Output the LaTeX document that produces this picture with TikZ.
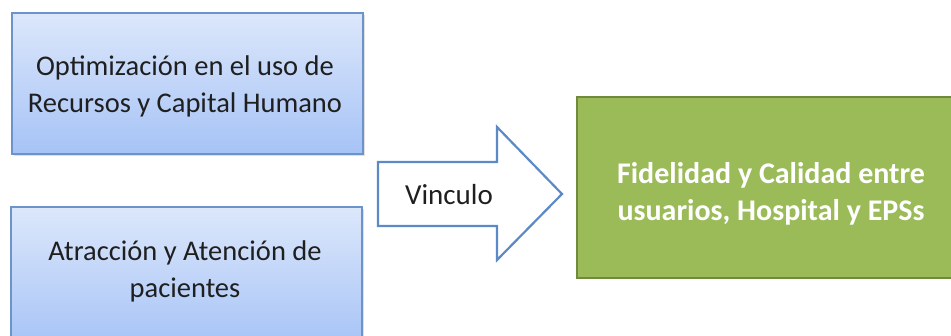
\documentclass[tikz,border=0pt]{standalone}
\usepackage{fontspec}
\setmainfont{Carlito}
\usetikzlibrary{shadows}
\definecolor{boxtop}{HTML}{DCE7FB}
\definecolor{boxbot}{HTML}{A6C3F6}
\definecolor{boxline}{HTML}{6D93CB}
\definecolor{arrowline}{HTML}{5B8AC6}
\definecolor{greenfill}{HTML}{9BBB59}
\definecolor{greenline}{HTML}{71893F}
\definecolor{inktext}{HTML}{1F1F1F}
\tikzset{
  bluebox/.style={draw=boxline, line width=1.2pt, top color=boxtop, bottom color=boxbot,
    minimum width=351pt, minimum height=141pt, inner sep=0pt,
    drop shadow={shadow xshift=1.5pt, shadow yshift=-1.5pt, opacity=0.25}},
  boxtext/.style={font=\fontsize{28.5}{37}\selectfont, text=inktext, align=center},
  greenbox/.style={draw=greenline, line width=2pt, fill=greenfill,
    minimum width=390pt, minimum height=181pt, inner sep=0pt},
  greentext/.style={font=\fontsize{30}{37}\selectfont\bfseries, text=white, align=center},
  bigarrow/.style={draw=arrowline, line width=2.2pt, fill=white, line join=miter}
}
\begin{document}
\begin{tikzpicture}[x=1pt,y=-1pt]
\useasboundingbox (0,0) rectangle (951,335);
\clip (0,0) rectangle (951,335);
\fill[white] (0,0) rectangle (951,335);

% input boxes
\node[bluebox] (opt) at (187.5,83.5) {};
\node[boxtext] (opttxt) at (185,86) {Optimización en el uso de\\Recursos y Capital Humano};
\node[bluebox] (atr) at (186.5,277.5) {};
\node[boxtext] (atrtxt) at (185,271) {Atracción y Atención de\\pacientes};

% link arrow
\draw[bigarrow] (378,162) -- (497,162) -- (497,127) -- (562,194) -- (497,260)
  -- (497,226) -- (378,226) -- cycle;
\node[font=\fontsize{29}{34}\selectfont, text=inktext] (vin) at (449,195) {Vinculo};

% result box
\node[greenbox] (fid) at (772,187.5) {};
\node[greentext] (fidtxt) at (771,194) {Fidelidad y Calidad entre\\usuarios, Hospital y EPSs};
\end{tikzpicture}
\end{document}
